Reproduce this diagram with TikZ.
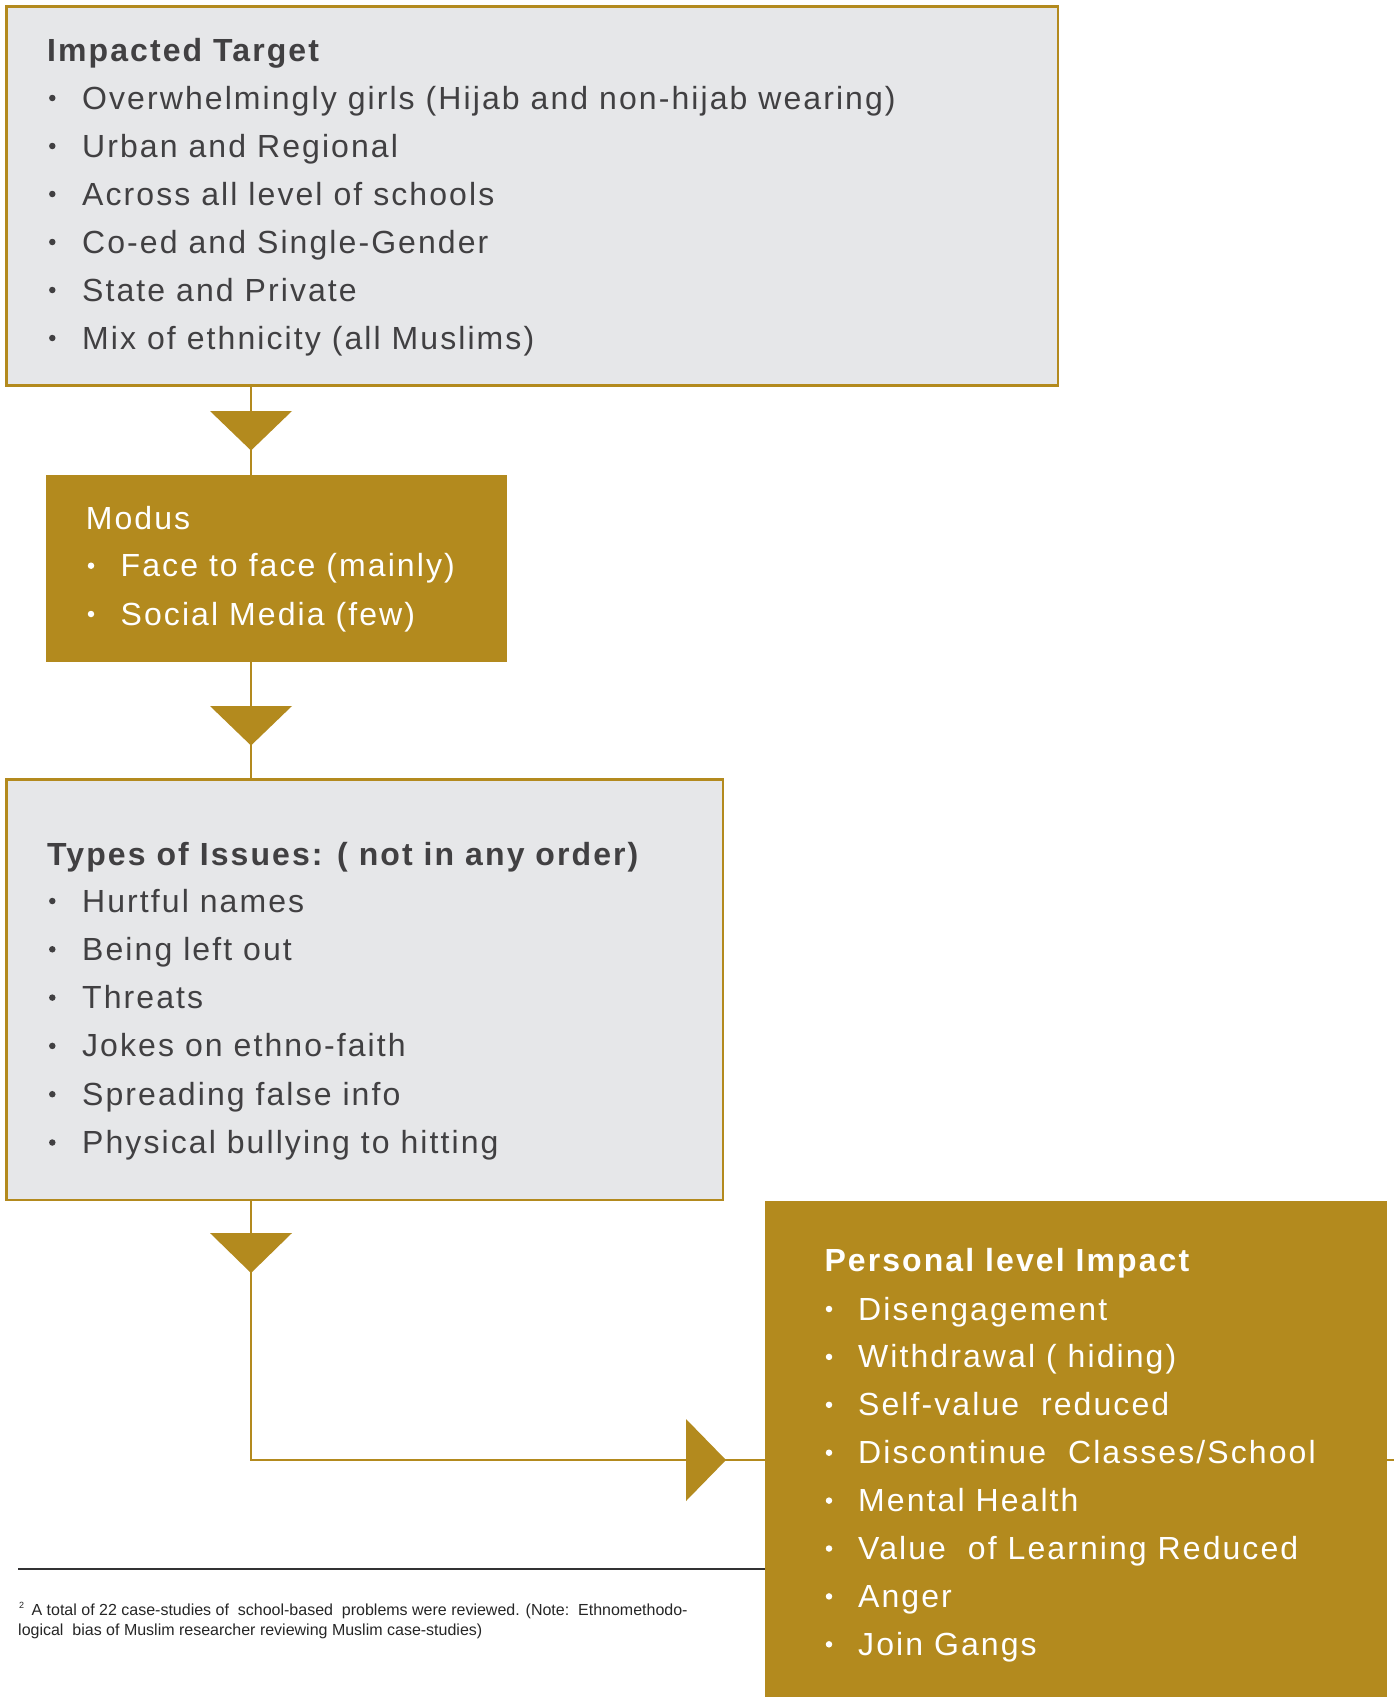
\documentclass[tikz,border=0pt]{standalone}
\usepackage{fontspec}
\setmainfont{Liberation Sans}
\newfontfamily\mf{Liberation Sans}[LetterSpace=6.5]
\newfontfamily\fnf{Liberation Sans}
\usetikzlibrary{calc}
\definecolor{gold}{RGB}{179,138,30}
\definecolor{boxgrey}{RGB}{230,231,233}
\definecolor{txtgrey}{RGB}{65,64,66}
\definecolor{rulecol}{RGB}{50,50,52}
\begin{document}
\begin{tikzpicture}[x=1pt,y=-1pt,
  greybox/.style={draw=gold, line width=2.5pt, fill=boxgrey, inner sep=0pt, outer sep=0pt, anchor=north west},
  goldbox/.style={fill=gold, draw=none, inner sep=0pt, outer sep=0pt, anchor=north west},
  conn/.style={draw=gold, line width=2.5pt},
  tri/.style={fill=gold},
  itemtext/.style={font=\mf\fontsize{32}{38}\selectfont, inner sep=0pt, anchor=base west},
  headtext/.style={font=\mf\bfseries\fontsize{32}{38}\selectfont, inner sep=0pt, anchor=base west},
  bul/.style={circle, inner sep=0pt, minimum size=6.5pt, draw=none},
  fntext/.style={font=\fnf\fontsize{16}{20}\selectfont, inner sep=0pt, anchor=base west, text=black!85}
]
\useasboundingbox (0,0) rectangle (1394,1697);
\fill[white] (0,0) rectangle (1394,1697);

% boxes
\node[greybox, minimum width=1051.5pt, minimum height=379pt] (top) at (6.5,6.5) {};
\node[goldbox, minimum width=461pt, minimum height=186.5pt] (modus) at (46,475) {};
\node[greybox, minimum width=716.5pt, minimum height=420.5pt] (types) at (6.5,779.5) {};
\node[goldbox, minimum width=622pt, minimum height=500pt] (personal) at (765,1201) {};

% connector helpers
\coordinate (lx) at (251,0);
\coordinate (elbow) at (251,1460);
\coordinate (stubend) at (1394,1460);

\draw[conn] (top.south -| lx) -- (modus.north -| lx);
\fill[tri] ($(top.south -| lx)+(-41,25.5)$) -- ++(82,0) -- ++(-41,39.5) -- cycle;
\draw[conn] (modus.south -| lx) -- (types.north -| lx);
\fill[tri] ($(modus.south -| lx)+(-41,44.5)$) -- ++(82,0) -- ++(-41,39.5) -- cycle;
\draw[conn] (types.south -| lx) -- (elbow) -- (elbow -| personal.west);
\fill[tri] ($(types.south -| lx)+(-41,33)$) -- ++(82,0) -- ++(-41,40) -- cycle;
\fill[tri] ($(elbow -| personal.west)+(-79,-41)$) -- ++(0,82) -- ++(40,-41) -- cycle;
\draw[conn] (elbow -| personal.east) -- (stubend);

% Impacted Target
\node[headtext, text=txtgrey] (thead) at (47,61.7) {Impacted Target};
\foreach \t [count=\i from 0, evaluate=\i as \yy using 109+48*\i] in
  {{Overwhelmingly girls (Hijab and non-hijab wearing)},{Urban and Regional},{Across all level of schools},{Co-ed and Single-Gender},{State and Private},{Mix of ethnicity (all Muslims)}}
{
  \node[bul, fill=txtgrey] (tb\i) at (52.3,\yy-11) {};
  \node[itemtext, text=txtgrey] (ti\i) at (82,\yy) {\t};
}

% Modus
\node[itemtext, text=white] (mhead) at (85.7,529) {Modus};
\foreach \t [count=\i from 0, evaluate=\i as \yy using 576.7+48.3*\i] in
  {{Face to face (mainly)},{Social Media (few)}}
{
  \node[bul, fill=white] (mb\i) at (91,\yy-11) {};
  \node[itemtext, text=white] (mi\i) at (120.5,\yy) {\t};
}

% Types of Issues
\node[headtext, text=txtgrey] (yhead) at (47,865) {Types of Issues: ( not in any order)};
\foreach \t [count=\i from 0, evaluate=\i as \yy using 912+48.3*\i] in
  {{Hurtful names},{Being left out},{Threats},{Jokes on ethno-faith},{Spreading false info},{Physical bullying to hitting}}
{
  \node[bul, fill=txtgrey] (yb\i) at (52.3,\yy-11) {};
  \node[itemtext, text=txtgrey] (yi\i) at (82,\yy) {\t};
}

% Personal level Impact
\node[headtext, text=white] (phead) at (824.3,1271.7) {Personal level Impact};
\foreach \t [count=\i from 0, evaluate=\i as \yy using 1320+47.9*\i] in
  {{Disengagement},{Withdrawal ( hiding)},{Self-value\ \ reduced},{Discontinue\ \ Classes/School},{Mental Health},{Value\ \ of Learning Reduced},{Anger},{Join Gangs}}
{
  \node[bul, fill=white] (pb\i) at (829,\yy-11) {};
  \node[itemtext, text=white] (pi\i) at (858,\yy) {\t};
}

% footnote
\coordinate (fnL) at (18,1569);
\draw[line width=1.5pt, rulecol] (fnL) -- (fnL -| personal.west);
\node[fntext, font=\fnf\fontsize{9}{10}\selectfont] (fnmark) at (19,1608) {2};
\node[fntext] (fn1) at (31.4,1615) {A total of 22 case-studies of\ \ school-based\ \ problems were reviewed. (Note:\ \ Ethnomethodo-};
\node[fntext] (fn2) at (18,1635) {logical\ \ bias of Muslim researcher reviewing Muslim case-studies)};
\end{tikzpicture}
\end{document}
